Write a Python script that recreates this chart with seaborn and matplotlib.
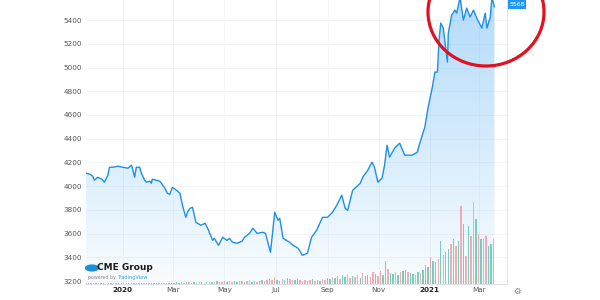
import numpy as np
import pandas as pd
import matplotlib
matplotlib.use("Agg")
import matplotlib.pyplot as plt
import matplotlib.dates as mdates
from matplotlib.patches import Ellipse, Circle
import seaborn as sns

# ---------------- data ----------------
price_dates = [
    "2019-11-18", "2019-11-23", "2019-11-26", "2019-11-28", "2019-12-02", "2019-12-07",
    "2019-12-10", "2019-12-14", "2019-12-16", "2019-12-20", "2019-12-26", "2020-01-01",
    "2020-01-07", "2020-01-11", "2020-01-12", "2020-01-15", "2020-01-17", "2020-01-21",
    "2020-01-23", "2020-01-27", "2020-01-29", "2020-02-02", "2020-02-04", "2020-02-05",
    "2020-02-10", "2020-02-14", "2020-02-16", "2020-02-20", "2020-02-23", "2020-02-26",
    "2020-02-29", "2020-03-05", "2020-03-09", "2020-03-12", "2020-03-16", "2020-03-18",
    "2020-03-21", "2020-03-24", "2020-03-28", "2020-03-30", "2020-04-03", "2020-04-08",
    "2020-04-11", "2020-04-17", "2020-04-19", "2020-04-24", "2020-04-29", "2020-05-04",
    "2020-05-07", "2020-05-11", "2020-05-16", "2020-05-22", "2020-05-25", "2020-05-31",
    "2020-06-04", "2020-06-09", "2020-06-16", "2020-06-19", "2020-06-25", "2020-06-30",
    "2020-07-04", "2020-07-06", "2020-07-10", "2020-07-14", "2020-07-18", "2020-07-22",
    "2020-07-28", "2020-08-02", "2020-08-08", "2020-08-13", "2020-08-19", "2020-08-26",
    "2020-09-01", "2020-09-07", "2020-09-12", "2020-09-18", "2020-09-22", "2020-09-25",
    "2020-10-01", "2020-10-10", "2020-10-13", "2020-10-19", "2020-10-24", "2020-10-27",
    "2020-10-31", "2020-11-05", "2020-11-08", "2020-11-11", "2020-11-14", "2020-11-20",
    "2020-11-26", "2020-12-02", "2020-12-11", "2020-12-17", "2020-12-20", "2020-12-26",
    "2020-12-30", "2021-01-04", "2021-01-07", "2021-01-10", "2021-01-12", "2021-01-14",
    "2021-01-17", "2021-01-22", "2021-01-23", "2021-01-27", "2021-01-31", "2021-02-02",
    "2021-02-06", "2021-02-10", "2021-02-14", "2021-02-18", "2021-02-22", "2021-02-26",
    "2021-03-04", "2021-03-08", "2021-03-10", "2021-03-14", "2021-03-16", "2021-03-19",
]
price_values = [
    4109, 4100, 4083, 4050, 4075, 4058,
    4033, 4092, 4159, 4159, 4168, 4159,
    4151, 4176, 4159, 4075, 4159, 4159,
    4109, 4050, 4033, 4041, 4024, 4058,
    4050, 4041, 4024, 3982, 3940, 3931,
    3990, 3965, 3940, 3839, 3737, 3780,
    3813, 3822, 3695, 3687, 3670, 3687,
    3645, 3543, 3560, 3501, 3569, 3543,
    3560, 3526, 3518, 3535, 3569, 3602,
    3645, 3602, 3611, 3602, 3442, 3780,
    3712, 3729, 3560, 3543, 3526, 3501,
    3476, 3417, 3434, 3569, 3628, 3737,
    3737, 3780, 3839, 3923, 3813, 3796,
    3965, 4024, 4075, 4134, 4202, 4159,
    4033, 4067, 4176, 4345, 4244, 4320,
    4362, 4261, 4261, 4286, 4362, 4497,
    4666, 4835, 4961, 4961, 5231, 5375,
    5332, 5046, 5290, 5442, 5484, 5459,
    5590, 5400, 5501, 5425, 5484, 5417,
    5332, 5459, 5332, 5425, 5590, 5510,
]

vol_start = "2019-11-18"
vol_heights = [
    0.8, 0.6, 0.9, 0.7, 1.0, 0.6, 0.8, 0.7, 0.5, 0.9, 0.6, 0.8, 1.0, 0.7, 0.9, 0.6, 0.8, 1.1,
    0.7, 0.9, 0.8, 1.2, 0.9, 1.0, 0.8, 1.3, 1.1, 0.9, 1.2, 1.0, 1.4, 1.1, 1.3, 1.0, 1.5, 1.2,
    1.6, 1.3, 1.8, 1.4, 2.0, 1.6, 1.5, 1.9, 1.3, 1.7, 2.1, 1.5, 1.8, 1.6, 2.2,
    2.0, 2.6, 1.8, 2.4, 3.0, 2.2, 2.8, 2.0, 3.2, 2.4, 2.7, 3.4, 2.1, 2.9, 3.6, 2.5, 3.1, 2.3, 3.0, 3.8,
    3.2, 4.5, 5.0, 3.8, 7.0, 4.2, 3.5, 5.5, 4.0, 6.0, 4.8, 3.6, 4.4, 5.2, 3.9,
    3.0, 4.2, 2.8, 3.6, 5.0, 3.4, 4.5, 3.2, 5.5, 4.0,
    6.5, 5.0, 7.5, 6.0, 8.0, 5.5, 9.5, 7.0, 10.0, 6.5, 8.0, 7.0, 9.0, 6.0, 11.0,
    8.0, 9.5, 7.5, 12.0, 10.0, 8.0, 13.0, 9.0, 23.0, 15.0, 11.0, 10.0, 12.0, 9.0,
    12, 13, 14, 12, 11, 10, 9, 12, 11, 14, 19, 17, 27, 23, 22, 25, 43, 29, 32, 35,
    40, 45, 38, 43, 78, 60, 28, 58, 48, 82, 65, 50, 45, 45, 48, 38, 40, 45,
]
vol_direction = list(
    "uudduduuddudduuduududdudu"
    "duuddudduuduudduduuddudud"
    "uduuddudduuddudduuduuddud"
    "duuduudduudddududuudduudu"
    "uduuddudduduuddudduuduudu"
    "duuduudud" "uuuduudud" "uudududud" "uddududduud"
)

y_ticks = [3200, 3400, 3600, 3800, 4000, 4200, 4400, 4600, 4800, 5000, 5200, 5400]
x_tick_dates = ["2020-01-01", "2020-03-01", "2020-05-01", "2020-07-01",
                "2020-09-01", "2020-11-01", "2021-01-01", "2021-03-01"]
x_tick_labels = ["2020", "Mar", "May", "Jul", "Sep", "Nov", "2021", "Mar"]
last_price_label = "5568"

# ---------------- figure ----------------
sns.set_style("white")
plt.rcParams["font.family"] = ["DejaVu Sans"]

W, H = 600, 300
fig = plt.figure(figsize=(6, 3), dpi=100)
fig.patch.set_facecolor("white")
ax = fig.add_axes([86 / W, 16 / H, 421 / W, 284 / H])

df = pd.DataFrame({"date": pd.to_datetime(price_dates), "price": price_values})
xmin = pd.Timestamp("2019-11-18")
xmax = pd.Timestamp("2021-04-03")
ymin, ymax = 3175, 5569

# gradient fill under the line
poly = ax.fill_between(df["date"], df["price"], ymin, color="none", lw=0)
grad = np.zeros((256, 1, 4))
grad[:, 0, 0] = 33 / 255
grad[:, 0, 1] = 150 / 255
grad[:, 0, 2] = 243 / 255
grad[:, 0, 3] = np.linspace(0.03, 0.34, 256)
im = ax.imshow(grad, extent=[mdates.date2num(xmin), mdates.date2num(xmax), ymin, ymax],
               origin="lower", aspect="auto", zorder=1)
im.set_clip_path(poly.get_paths()[0], transform=ax.transData)

sns.lineplot(data=df, x="date", y="price", ax=ax, color="#1e8fe8", linewidth=1.0, zorder=4)

ax.set_xlim(xmin, xmax)
ax.set_ylim(ymin, ymax)
ax.set_xlabel("")
ax.set_ylabel("")

ax.set_yticks(y_ticks)
ax.set_yticklabels([str(v) for v in y_ticks])
ax.set_xticks(pd.to_datetime(x_tick_dates))
ax.set_xticklabels(x_tick_labels)
ax.grid(True, color="#f2f4f9", linewidth=0.6, zorder=0)
ax.yaxis.tick_right()
ax.tick_params(axis="y", length=0, pad=3, labelsize=5.2, labelcolor="#555555")
ax.tick_params(axis="x", length=0, pad=2.5, labelsize=5.2, labelcolor="#555555")
for lbl in ax.get_xticklabels():
    if lbl.get_text() in ("2020", "2021"):
        lbl.set_color("#222222")
        lbl.set_fontweight("semibold")

for s in ["top", "left"]:
    ax.spines[s].set_visible(False)
ax.spines["right"].set_color("#e3e6ee")
ax.spines["bottom"].set_color("#dde0e8")
ax.spines["right"].set_linewidth(0.8)
ax.spines["bottom"].set_linewidth(0.8)

# volume on a twin axis
ax2 = ax.twinx()
vol_dates = pd.date_range(vol_start, periods=len(vol_heights), freq="3D")
assert len(vol_direction) == len(vol_heights)
vol_colors = ["#5ccab5" if d == "u" else "#f49ea5" for d in vol_direction]
ax2.bar(vol_dates, vol_heights, width=1.7, color=vol_colors, alpha=0.85, linewidth=0, zorder=2)
ax2.set_ylim(0, 284)
ax2.set_xlim(xmin, xmax)
ax2.axis("off")

# CME Group logo text
fig.add_artist(Circle((92 / W, 1 - 268 / H), 3.6 / H, transform=fig.transFigure,
                      facecolor="#1c8fd6", edgecolor="none", clip_on=False))
fig.text(97 / W, 1 - 268 / H, "CME Group", fontsize=6.5, fontweight="semibold",
         color="#1b1b1b", va="center", ha="left")
fig.text(88 / W, 1 - 278 / H, "powered by", fontsize=3.4, color="#888888",
         va="center", ha="left")
fig.text(117 / W, 1 - 278 / H, "TradingView", fontsize=3.6, color="#3aa0f0",
         va="center", ha="left")

# red annotation ellipse
fig.add_artist(Ellipse((486 / W, 1 - 12 / H), 116 / W, 108 / H, transform=fig.transFigure,
                       fill=False, edgecolor="#e0121f", linewidth=2.3, clip_on=False))

# last price label at the top of the price scale
fig.text(517 / W, 1 - 4.5 / H, last_price_label, fontsize=4.5, color="white",
         ha="center", va="center",
         bbox=dict(boxstyle="square,pad=0.25", facecolor="#2196f3", edgecolor="none"))

# settings icon
fig.text(517 / W, 1 - 291 / H, "\u2699", fontsize=6, color="#777777", ha="center", va="center")

fig.savefig("out.png", dpi=100, facecolor="white")
